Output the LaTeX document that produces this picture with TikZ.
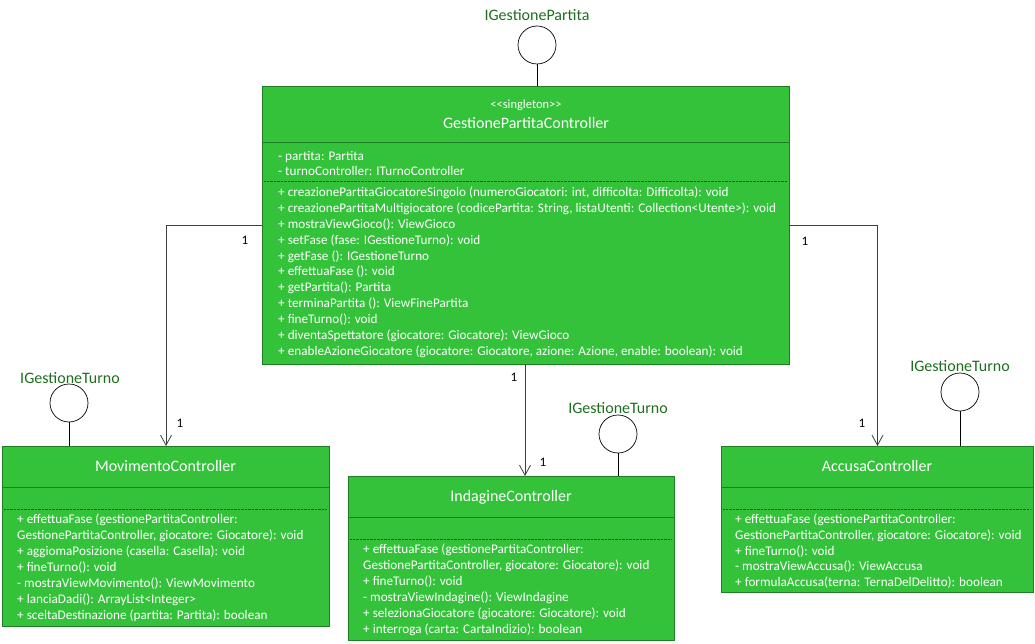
\documentclass[tikz,border=0pt]{standalone}
\usepackage{fontspec}
\setmainfont{Carlito}
\usetikzlibrary{arrows.meta,calc}

\definecolor{classfill}{HTML}{33C23A}
\definecolor{classedge}{HTML}{1E7F22}
\definecolor{ifacetext}{HTML}{1E6E1E}
\definecolor{wire}{HTML}{404040}

\tikzset{
  x=1pt, y=-1pt,
  classbox/.style={draw=classedge, line width=1pt, fill=classfill, anchor=north west, inner sep=0pt},
  divider/.style={draw=classedge, line width=1pt},
  opsline/.style={draw=black!75, line width=0.6pt, dash pattern=on 0.7pt off 0.7pt},
  classname/.style={text=white, font=\fontsize{16}{18}\selectfont},
  stereo/.style={text=white, font=\fontsize{12.5}{14}\selectfont},
  member/.style={text=white, anchor=base west, inner sep=0pt, font=\fontsize{13.2}{15}\selectfont},
  ball/.style={draw=black, line width=0.7pt, fill=white, circle, minimum size=38pt, inner sep=0pt},
  stem/.style={draw=black, line width=0.7pt},
  ifacename/.style={text=ifacetext, font=\fontsize{16}{18}\selectfont},
  conn/.style={draw=wire, line width=0.8pt, -{Straight Barb[length=10pt,width=11pt,line width=0.8pt]}},
  mult/.style={text=black, font=\fontsize{13}{15}\selectfont},
}

% one member line per node, stacked at a fixed baseline pitch
% #1 prefix of node names, #2 x, #3 first baseline, #4 pitch, #5 list of lines
\newcommand{\memberlist}[5]{%
  \foreach \txt [count=\k from 0] in {#5} {%
    \node[member] (#1-\k) at (#2, #3 + \k*#4) {\txt};
  }%
}

\begin{document}
\begin{tikzpicture}
\useasboundingbox (0,0) rectangle (1035,644);

% ---------------- GestionePartitaController ----------------
\node[classbox, minimum width=527pt, minimum height=278pt] (main) at (262,86) {};
\draw[divider] (262,143) -- (789,143);
\draw[opsline] (264,181) -- (787,181);
\node[stereo] (mainst) at (526,105) {{<}{<}singleton{>}{>}};
\node[classname] (mainnm) at (526,123) {GestionePartitaController};
\memberlist{mainattr}{278}{161}{15}{
  {- partita: Partita},
  {- turnoController: ITurnoController}}
\memberlist{mainop}{278}{196.5}{15.9}{
  {+ creazionePartitaGiocatoreSingolo (numeroGiocatori: int, difficolta: Difficolta): void},
  {+ creazionePartitaMultigiocatore (codicePartita: String, listaUtenti: Collection{<}Utente{>}): void},
  {+ mostraViewGioco(): ViewGioco},
  {+ setFase (fase: IGestioneTurno): void},
  {+ getFase (): IGestioneTurno},
  {+ effettuaFase (): void},
  {+ getPartita(): Partita},
  {+ terminaPartita (): ViewFinePartita},
  {+ fineTurno(): void},
  {+ diventaSpettatore (giocatore: Giocatore): ViewGioco},
  {+ enableAzioneGiocatore (giocatore: Giocatore, azione: Azione, enable: boolean): void}}

% ---------------- MovimentoController ----------------
\node[classbox, minimum width=327pt, minimum height=180pt] (mov) at (2,446) {};
\draw[divider] (2,487) -- (329,487);
\draw[opsline] (4,509) -- (327,509);
\node[classname] (movnm) at (165.5,466) {MovimentoController};
\memberlist{movop}{17}{523.5}{16}{
  {+ effettuaFase (gestionePartitaController:},
  {GestionePartitaController, giocatore: Giocatore): void},
  {+ aggiomaPosizione (casella: Casella): void},
  {+ fineTurno(): void},
  {- mostraViewMovimento(): ViewMovimento},
  {+ lanciaDadi(): ArrayList{<}Integer{>}},
  {+ sceltaDestinazione (partita: Partita): boolean}}

% ---------------- IndagineController ----------------
\node[classbox, minimum width=326pt, minimum height=164pt] (ind) at (348,476) {};
\draw[divider] (348,517) -- (674,517);
\draw[opsline] (350,539) -- (672,539);
\node[classname] (indnm) at (511,497) {IndagineController};
\memberlist{indop}{363}{553.5}{16}{
  {+ effettuaFase (gestionePartitaController:},
  {GestionePartitaController, giocatore: Giocatore): void},
  {+ fineTurno(): void},
  {- mostraViewIndagine(): ViewIndagine},
  {+ selezionaGiocatore (giocatore: Giocatore): void},
  {+ interroga (carta: CartaIndizio): boolean}}

% ---------------- AccusaController ----------------
\node[classbox, minimum width=312pt, minimum height=146pt] (acc) at (721,446) {};
\draw[divider] (721,487) -- (1033,487);
\draw[opsline] (723,509) -- (1031,509);
\node[classname] (accnm) at (877,466) {AccusaController};
\memberlist{accop}{735}{523.5}{15.8}{
  {+ effettuaFase (gestionePartitaController:},
  {GestionePartitaController, giocatore: Giocatore): void},
  {+ fineTurno(): void},
  {- mostraViewAccusa(): ViewAccusa},
  {+ formulaAccusa(terna: TernaDelDelitto): boolean}}

% ---------------- provided interfaces ----------------
\node[ball] (ipart) at (537,45) {};
\node[ifacename] (ipartnm) at (537,15) {IGestionePartita};
\draw[stem] (ipart.south) -- (ipart.south |- main.north);

\node[ball] (imov) at (69,403) {};
\node[ifacename] (imovnm) at (70,378) {IGestioneTurno};
\draw[stem] (imov.south) -- (imov.south |- mov.north);

\node[ball] (iind) at (618,434) {};
\node[ifacename] (iindnm) at (618,408) {IGestioneTurno};
\draw[stem] (iind.south) -- (iind.south |- ind.north);

\node[ball] (iacc) at (960,392) {};
\node[ifacename] (iaccnm) at (960,366) {IGestioneTurno};
\draw[stem] (iacc.south) -- (iacc.south |- acc.north);

% ---------------- associations ----------------
\coordinate (mainL) at (262,225);
\coordinate (mainR) at (789,225);
\coordinate (mainB) at (525,364);
\coordinate (indT) at (525,476);

\draw[conn] (mainL) -| (mov.north);
\draw[conn] (mainB) -- (indT);
\draw[conn] (mainR) -| (acc.north);

\node[mult] (m1a) at (245,240) {1};
\node[mult] (m1b) at (180,423) {1};
\node[mult] (m2a) at (514,377) {1};
\node[mult] (m2b) at (543,462) {1};
\node[mult] (m3a) at (805,241) {1};
\node[mult] (m3b) at (862,423) {1};
\end{tikzpicture}
\end{document}
